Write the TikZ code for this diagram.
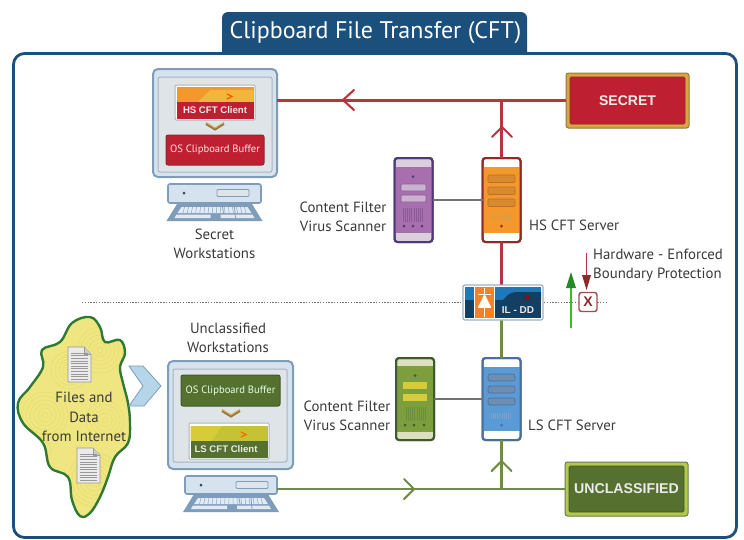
\documentclass[tikz,border=0pt]{standalone}
\usepackage{fontspec}
\setmainfont{PT Sans}
\newfontfamily\boldsans{Liberation Sans}[BoldFont={Liberation Sans Bold}]
\usetikzlibrary{calc}
\definecolor{frameblue}{HTML}{1B4F7C}
\definecolor{monfill}{HTML}{D5E3EF}
\definecolor{monedge}{HTML}{7F9DBB}
\definecolor{scrfill}{HTML}{DFE4E9}
\definecolor{scredge}{HTML}{A9B4BE}
\definecolor{redc}{HTML}{BE2032}
\definecolor{darkred}{HTML}{8E2A2C}
\definecolor{linered}{HTML}{B8343F}
\definecolor{gold}{HTML}{D9A441}
\definecolor{goldedge}{HTML}{94793F}
\definecolor{oliveb}{HTML}{55702F}
\definecolor{oliveedge}{HTML}{3F5B2B}
\definecolor{linegreen}{HTML}{6F8B45}
\definecolor{limec}{HTML}{B5C84A}
\definecolor{orangeA}{HTML}{F4982B}
\definecolor{orangeB}{HTML}{F4B63A}
\definecolor{yelA}{HTML}{B5B82F}
\definecolor{yelB}{HTML}{D7CB3A}
\definecolor{txt}{HTML}{3A3A3A}
\definecolor{blobfill}{HTML}{EFE682}
\definecolor{blobswirl}{HTML}{E8DE72}
\definecolor{blobedge}{HTML}{2F7A32}
\definecolor{chevblue}{HTML}{B5D5E8}
\definecolor{purpB}{HTML}{A86FAE}
\definecolor{purpE}{HTML}{4E3A78}
\definecolor{purpC}{HTML}{DCCFDC}
\definecolor{purpS}{HTML}{C9B2D2}
\definecolor{purpG}{HTML}{8A5C96}
\definecolor{hsS}{HTML}{D98A2E}
\definecolor{hsE}{HTML}{B8702A}
\definecolor{hsG}{HTML}{DD9A3E}
\definecolor{blueB}{HTML}{5B9BD5}
\definecolor{blueE}{HTML}{4A6E9C}
\definecolor{blueS}{HTML}{6F8DB0}
\definecolor{blueG}{HTML}{7CA0C8}
\definecolor{grnB}{HTML}{7D9E3C}
\definecolor{grnC}{HTML}{DDE0BE}
\definecolor{grnG}{HTML}{6F8C3E}
\definecolor{ilblue}{HTML}{1F78B8}
\definecolor{ilnavy}{HTML}{123F62}
\tikzset{
  x=1pt,y=-1pt,
  sized/.style 2 args={minimum width=#1,minimum height=#2,inner sep=0pt,outer sep=0pt,rectangle},
  label text/.style={text=txt,font=\fontsize{14.8}{19}\selectfont,align=center,inner sep=0pt},
  monitor/.style={draw=monedge,line width=2pt,fill=monfill,rounded corners=5pt},
  screen/.style={draw=scredge,line width=1pt,fill=scrfill,rounded corners=2pt},
  base/.style={draw=monedge,line width=1.6pt,fill=monfill,rounded corners=2pt},
  osred/.style={draw=darkred,line width=1pt,fill=redc,rounded corners=2pt,text=white!90!red,font=\fontsize{10.6}{11}\selectfont},
  osgreen/.style={draw=oliveedge,line width=1pt,fill=oliveb,rounded corners=2pt,text=white!90!green,font=\fontsize{10.6}{11}\selectfont},
  clientframe/.style={draw=scredge,line width=1pt,fill=white,rounded corners=1pt},
  redline/.style={draw=linered,line width=2.1pt},
  greenline/.style={draw=linegreen,line width=2.1pt},
  greyline/.style={draw=black!55,line width=1.8pt},
  chev/.style={line width=2.1pt,line cap=round,line join=miter,fill=none},
  tag/.style={font=\boldsans\bfseries\fontsize{#1}{#1}\selectfont,text=white!92!black},
}
\newcommand{\kbd}[3]{%
  \begin{scope}[shift={(#1,#2)}]
    \fill[monedge,line join=round] (-37.5,0) -- (37.5,0) -- (#3,17) -- (-#3,17) -- cycle;
    \fill[monfill!70!white] (-33,3) -- (33,3) -- (37,9) -- (-37,9) -- cycle;
    \fill[monfill!70!white] (-38,10.5) -- (-4,10.5) -- (-4,14) -- (-40,14) -- cycle;
    \fill[monfill!70!white] (6,10.5) -- (38,10.5) -- (40,14) -- (6,14) -- cycle;
    \foreach \i in {-30,-26,...,30}{\draw[monedge,line width=.45pt] (\i,3) -- (\i*1.05,9);}
    \draw[monedge,line width=.8pt] (20,3) -- (21,14) (8,3) -- (9,9);
  \end{scope}}
\newcommand{\grill}[5]{%
  \foreach \i in {0,...,#3}{\draw[#5,line width=1pt] (#1+\i*2.2,#2) -- (#1+\i*2.2,#2+#4);}}
\begin{document}
\begin{tikzpicture}
\useasboundingbox (0,0) rectangle (744,539);
\fill[white] (0,0) rectangle (744,539);

% frame and title
\node[sized={723pt}{484pt},draw=frameblue,line width=2.8pt,rounded corners=11pt] (frame) at (375,295.5) {};
\fill[frameblue,rounded corners=6pt] (222,60) -- (222,12) -- (527,12) -- (527,60) -- cycle;
\fill[frameblue] (222,45) rectangle (527,54.5);
\fill[white] (215,55) rectangle (535,62);
\node[text=white,font=\fontsize{24}{26}\selectfont,inner sep=0pt] (title) at (375.5,33) {Clipboard File Transfer (CFT)};

% boundary line
\coordinate (dotL) at (82,302.5);
\coordinate (dotR) at (607,302.5);
\draw[black!55,line width=1.4pt,dash pattern=on 1.3pt off 1.5pt] (dotL) -- (dotR);

% ---- Secret workstation
\node[sized={124pt}{108pt},monitor] (himon) at (215,123) {};
\node[sized={114pt}{95pt},screen] (hiscr) at (215,124.5) {};
\node[sized={80pt}{35pt},clientframe] (hicl) at (215,102.5) {};
\fill[orangeA] (176.5,87) rectangle (253.5,102);
\fill[orangeB] (198,102) -- (210,90) -- (253.5,90) -- (253.5,102) -- cycle;
\fill[redc] (176.5,102) rectangle (253.5,118.5);
\node[tag=9.6] (hicltxt) at (215,110.5) {HS CFT Client};
\draw[chev,draw=orange!70!red,line width=1.3pt] (227,94) -- (232,96.5) -- (227,99);
\draw[line width=2pt,draw=goldedge,fill=none] (206,124) -- (215,129.5) -- (224,124);
\draw[line width=1pt,draw=gold] (206,122.5) -- (215,128) -- (224,122.5);
\node[sized={98pt}{30pt},osred] (hiOS) at (215,150) {OS Clipboard Buffer};
\node[sized={93pt}{19pt},base] (hibase) at (214.5,193.5) {};
\fill[black!60!monedge] (184,193) circle (1.5);
\node[sized={32pt}{7pt},draw=monedge,line width=.8pt,fill=scrfill,rounded corners=1pt] (hidrive) at (233,193) {};
\kbd{214.5}{204}{48}
\node[label text] (hilab) at (214.5,243.5) {Secret\\Workstations};

% ---- Files blob
\begin{scope}
\path[clip] plot[smooth cycle,tension=.65] coordinates {(90,317)(100,327)(105,342)(120,340)(125,353)(120,367)(123,383)(128,403)(130,423)(128,443)(115,457)(108,477)(100,497)(90,513)(80,516)(72,500)(68,477)(50,467)(43,443)(23,423)(18,403)(30,387)(43,367)(42,350)(60,342)(72,323)};
\fill[blobfill] (0,300) rectangle (150,530);
\foreach \p/\rr in {{45,415}/26,{100,350}/26,{95,480}/30,{70,370}/20,{105,420}/20,{40,450}/14}{
  \foreach \r in {3,7,...,\rr}{\draw[blobswirl,line width=.7pt] (\p) circle (\r);}}
\end{scope}
\draw[blobedge,line width=2.4pt] plot[smooth cycle,tension=.65] coordinates {(90,317)(100,327)(105,342)(120,340)(125,353)(120,367)(123,383)(128,403)(130,423)(128,443)(115,457)(108,477)(100,497)(90,513)(80,516)(72,500)(68,477)(50,467)(43,443)(23,423)(18,403)(30,387)(43,367)(42,350)(60,342)(72,323)};
\foreach \dx/\dy in {68/347,77/448}{
 \begin{scope}[shift={(\dx,\dy)}]
  \draw[fill=white!92!black,draw=black!40,line width=.6pt] (0,0) -- (16,0) -- (23,7) -- (23,35) -- (0,35) -- cycle;
  \draw[fill=black!20,draw=black!40,line width=.5pt] (16,0) -- (16,7) -- (23,7);
  \foreach \ly in {6,8.6,...,33}{\draw[black!40,line width=.45pt] (3,\ly) -- (20,\ly);}
 \end{scope}}
\node[label text,font=\fontsize{14.8}{19.3}\selectfont] (fileslab) at (84,417) {Files and\\Data\\from Internet};
\draw[monedge,line width=.8pt,fill=chevblue] (129,366) -- (143,366) -- (161,386) -- (144,406) -- (129,406) -- (143,386) -- cycle;

% ---- Unclassified workstation
\node[label text] (lolab) at (228,337.5) {Unclassified\\Workstations};
\node[sized={125pt}{108pt},monitor] (lomon) at (230.5,415) {};
\node[sized={114pt}{93pt},screen] (loscr) at (230,415.5) {};
\node[sized={99pt}{31pt},osgreen] (loOS) at (230.5,390.5) {OS Clipboard Buffer};
\draw[line width=2pt,draw=goldedge] (222,411) -- (231,416.5) -- (240,411);
\draw[line width=1pt,draw=gold] (222,409.5) -- (231,415) -- (240,409.5);
\node[sized={80pt}{36pt},clientframe] (locl) at (229,441) {};
\fill[yelA] (190.5,426) rectangle (267.5,441);
\fill[yelB] (190.5,441) -- (190.5,426) -- (222,426) -- (212,441) -- cycle;
\fill[yelA!50!yelB] (212,441) -- (222,426) -- (267.5,426) -- (267.5,441) -- cycle;
\fill[oliveb] (190.5,441) rectangle (267.5,457.5);
\node[tag=9.6] (locltxt) at (226,449.5) {LS CFT Client};
\draw[chev,draw=orange!85!red,line width=1.3pt] (241,432) -- (246,434.5) -- (241,437);
\node[sized={92pt}{18pt},base] (lobase) at (231,485) {};
\fill[black!60!monedge] (201,485) circle (1.5);
\node[sized={32pt}{7pt},draw=monedge,line width=.8pt,fill=scrfill,rounded corners=1pt] (lodrive) at (252,485) {};
\kbd{231}{495}{48}

% ---- class boxes
\node[sized={123pt}{55pt},draw=goldedge,line width=1pt,fill=gold,rounded corners=2.5pt] (secretouter) at (627.5,100.5) {};
\node[sized={115pt}{47pt},draw=darkred,line width=.8pt,fill=redc,rounded corners=1.5pt,tag=14] (secret) at (627.5,100.5) {SECRET};
\node[sized={123pt}{54pt},draw=oliveedge!80!white,line width=1pt,fill=limec,rounded corners=2.5pt] (unclouter) at (626.5,489) {};
\node[sized={115pt}{46pt},draw=oliveedge,line width=.8pt,fill=oliveb,rounded corners=1.5pt,tag=14.2] (uncl) at (626.5,489) {UNCLASSIFIED};

% ---- servers
\node[sized={38pt}{84pt},draw=darkred,line width=2pt,fill=white,rounded corners=3pt] (hiserv) at (501.5,200) {};
\fill[orangeA] (482,167) rectangle (521,233);
\foreach \yy in {175,187,199}{\draw[fill=hsS,draw=hsE,line width=.6pt,rounded corners=1pt] (488,\yy) rectangle (515,\yy+7.5);}
\grill{491}{214}{9}{6}{hsG}
\fill[darkred] (501.5,226) circle (1.5);
\node[sized={38pt}{84pt},draw=darkred,line width=2pt,rounded corners=3pt] at (501.5,200) {};

\node[sized={38pt}{84pt},draw=purpE,line width=2pt,fill=purpC,rounded corners=3pt] (hifilt) at (413.5,200) {};
\fill[purpB] (394,167) rectangle (433,233);
\foreach \yy in {184,195}{\draw[fill=purpS,draw=purpG,line width=.6pt,rounded corners=1pt] (401,\yy) rectangle (426,\yy+7);}
\fill[purpE] (413,176.5) circle (1.5);
\grill{403}{208}{9}{14}{purpG}
\foreach \i in {404,413,422}{\fill[purpE] (\i,226) circle (1.5);}
\node[sized={38pt}{84pt},draw=purpE,line width=2pt,rounded corners=3pt] at (413.5,200) {};

\node[sized={38pt}{82pt},draw=blueE,line width=2pt,fill=white,rounded corners=3pt] (loserv) at (501.5,399) {};
\fill[blueB] (482,367) rectangle (521,431);
\foreach \yy in {374,386,398}{\draw[fill=blueS,draw=blueE,line width=.6pt,rounded corners=2pt] (488,\yy) rectangle (515,\yy+7);}
\grill{491}{413}{9}{6}{blueG}
\fill[blueE] (501.5,425) circle (1.5);
\node[sized={38pt}{82pt},draw=blueE,line width=2pt,rounded corners=3pt] at (501.5,399) {};

\node[sized={38pt}{82pt},draw=oliveedge,line width=2pt,fill=grnC,rounded corners=3pt] (lofilt) at (415,399) {};
\fill[grnB] (396,366) rectangle (434,432);
\foreach \yy in {382,394}{\fill[yelB] (403,\yy) rectangle (427,\yy+6.5);}
\fill[oliveedge] (415,375.5) circle (1.5);
\grill{406}{407}{9}{14}{grnG}
\foreach \i in {405,414,424}{\fill[oliveedge] (\i,425) circle (1.5);}
\node[sized={38pt}{82pt},draw=oliveedge,line width=2pt,rounded corners=3pt] at (415,399) {};

% ---- connectors (below the guard)
\draw[redline] (secretouter.west) -- (secretouter.west -| himon.east);
\draw[redline] (hiserv.north) -- (hiserv.north |- secretouter.west);
\draw[redline] (hiserv.south) -- (hiserv.south |- 0,286);
\draw[greenline] (loserv.north) -- (loserv.north |- 0,319);
\draw[greenline] (loserv.south) -- (loserv.south |- unclouter.west);
\draw[greenline] (unclouter.west) -- (unclouter.west -| lobase.east);
\draw[greyline] (hifilt.east) -- (hifilt.east -| hiserv.west);
\draw[greyline] (lofilt.east) -- (lofilt.east -| loserv.west);

% ---- IL-DD guard
\node[sized={80pt}{35pt},draw=monedge!80!white,line width=1.2pt,fill=white,rounded corners=2pt] (guard) at (503,302.5) {};
\fill[ilblue] (465,287) rectangle (541,300);
\fill[ilnavy] (465,300) rectangle (541,318);
\fill[ilnavy] (495,300) -- (503,300) .. controls (510,292) and (512,292) .. (520,292) -- (541,292) -- (541,300) -- cycle;
\fill[orangeA!85!red] (474,287) rectangle (495,318);
\fill[white] (478,307) -- (484.5,294) -- (491,307) -- cycle;
\draw[white,line width=.9pt] (484.5,288) -- (484.5,317) (478,294) -- (491,294) (478,307) -- (491,307);
\draw[white,line width=1.6pt] (474.5,287) -- (474.5,318) (494.5,287) -- (494.5,318);
\node[tag=10] (guardtxt) at (518,310) {IL - DD};
\draw[red!65!black,line width=1.1pt] (524,295) -- (530,297.5) -- (524,300);

% flow chevrons
\draw[chev,draw=linered] (354,90) -- (343,100) -- (354,110);
\draw[chev,draw=linered] (492,137) -- (502,127) -- (512,137);
\draw[chev,draw=linegreen] (404,479) -- (414,489) -- (404,499);
\draw[chev,draw=linegreen] (491.5,471) -- (501.5,461) -- (511.5,471);

% ---- boundary key
\coordinate (upS) at (571,328);
\coordinate (upE) at (571,272);
\draw[line width=2pt,draw=linegreen!60!green] (upS) -- (571,285);
\fill[green!45!black!85!white] (566,288) -- (upE) -- (576,288) -- cycle;
\node[sized={18pt}{19pt},draw=darkred!85!white,line width=1.4pt,fill=white,rounded corners=2.5pt,text=darkred,font=\boldsans\bfseries\fontsize{14}{14}\selectfont] (xbox) at (588,302) {X};
\coordinate (dnS) at (586.5,253);
\draw[line width=1.8pt,draw=linered] (dnS) -- (586.5,278);
\fill[darkred] (582,275) -- (591,275) -- (586.5,290) -- cycle;

% ---- labels
\node[label text,anchor=west,align=left] (hwlab) at (593,265.5) {Hardware - Enforced\\Boundary Protection};
\node[label text] (cf1) at (343,216.5) {Content Filter\\Virus Scanner};
\node[label text] (cf2) at (347,415.5) {Content Filter\\Virus Scanner};
\node[label text,anchor=west] (hslab) at (529,225) {HS CFT Server};
\node[label text,anchor=west] (lslab) at (528,425) {LS CFT Server};
\end{tikzpicture}
\end{document}
